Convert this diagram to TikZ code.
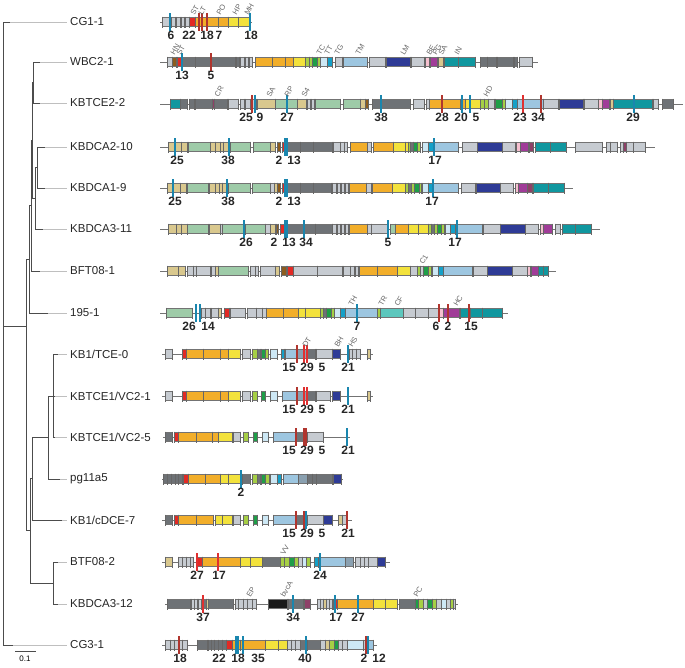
\documentclass[tikz,border=0pt]{standalone}
\usepackage{fontspec}
\setmainfont{Liberation Sans}

% gene colours
\definecolor{lgray}{HTML}{C6CBD1}
\definecolor{dgray}{HTML}{6E7276}
\definecolor{orange}{HTML}{F2AE2A}
\definecolor{yellow}{HTML}{F3E23C}
\definecolor{lgreen}{HTML}{A6CF45}
\definecolor{green}{HTML}{1E9E48}
\definecolor{lblue}{HTML}{9DC6E0}
\definecolor{pblue}{HTML}{CDE8F5}
\definecolor{cyan}{HTML}{14A0C8}
\definecolor{navy}{HTML}{2E3B96}
\definecolor{teal}{HTML}{10979F}
\definecolor{magenta}{HTML}{A03C98}
\definecolor{pink}{HTML}{F6C0CF}
\definecolor{tan}{HTML}{D9C88E}
\definecolor{sage}{HTML}{9ECBA8}
\definecolor{brown}{HTML}{8C5C1E}
\definecolor{red}{HTML}{E22A25}
\definecolor{blk}{HTML}{1A1A1A}
\definecolor{mauve}{HTML}{8E4068}
\definecolor{turq}{HTML}{5CC7BD}
\definecolor{slate}{HTML}{8AA0B0}
% marker colours
\definecolor{mkblue}{HTML}{1A86AE}
\definecolor{mkred}{HTML}{E03030}
\definecolor{dkred}{HTML}{B0352E}

% one row of genes: y, list of start/end/colour
\newcommand\genes[2]{%
  \foreach \a/\b/\c in {#2}{%
    \filldraw[gene,fill=\c] (\a,#1-4.5) rectangle (\b,#1+4.5);
    \draw[tk] (\a,#1-5.5) -- (\a,#1+5.5) (\b,#1-5.5) -- (\b,#1+5.5);
  }}
% markers: y, list of x/colour
\newcommand\mks[2]{%
  \foreach \a/\c in {#2}{\draw[mkline,\c] (\a,#1-9) -- (\a,#1+9);}}
% numbers under the row: y, list of x/text
\newcommand\nums[2]{%
  \foreach \a/\t in {#2}{\node[num] (n#1-\a) at (\a,#1+9) {\t};}}
% rotated gene names: y, list of x/text
\newcommand\tags[2]{%
  \foreach \a/\t in {#2}{\node[tag] (t#1-\a) at (\a,#1-7) {\t};}}

\begin{document}
\begin{tikzpicture}[x=1pt,y=-1pt,
    branch/.style={draw=black!70, line width=0.7pt},
    ext/.style={draw=black!25, line width=0.7pt},
    leaf/.style={anchor=west, inner xsep=3pt, inner ysep=0pt,
        font=\fontsize{11.5}{13}\selectfont, text=black!85},
    bline/.style={draw=black!55, line width=0.6pt},
    gene/.style={draw=black!55, line width=0.35pt},
    tk/.style={draw=black!60, line width=0.4pt},
    mkline/.style={line width=2.2pt},
    num/.style={anchor=north, inner sep=0pt,
        font=\fontsize{12}{14}\selectfont\bfseries, text=black!85},
    tag/.style={anchor=west, rotate=60, inner sep=0.5pt,
        font=\fontsize{7.5}{8}\selectfont, text=black!60}
]
\useasboundingbox (0,0) rectangle (685,667);

% --- Tree ---
\node[leaf] (cg11) at (67,22) {CG1-1};
\node[leaf] (wbc21) at (67,62) {WBC2-1};
\node[leaf] (kbtce22) at (67,103) {KBTCE2-2};
\node[leaf] (kbdca210) at (67,147) {KBDCA2-10};
\node[leaf] (kbdca19) at (67,188) {KBDCA1-9};
\node[leaf] (kbdca311) at (67,229) {KBDCA3-11};
\node[leaf] (bft081) at (67,271) {BFT08-1};
\node[leaf] (s1951) at (67,313) {195-1};
\node[leaf] (tce0) at (67,354) {KB1/TCE-0};
\node[leaf] (vc21) at (67,396) {KBTCE1/VC2-1};
\node[leaf] (vc25) at (67,437) {KBTCE1/VC2-5};
\node[leaf] (pg11a5) at (67,479) {pg11a5};
\node[leaf] (cdce7) at (67,520) {KB1/cDCE-7};
\node[leaf] (btf082) at (67,562) {BTF08-2};
\node[leaf] (kbdca312) at (67,604) {KBDCA3-12};
\node[leaf] (cg31) at (67,645) {CG3-1};

% internal nodes
\draw[branch] (3,22) -- (3,645);
\draw[branch] (3,326) -- (26,326);
\draw[branch] (26,259) -- (26,530);
% upper clade
\draw[branch] (26,259) -- (29,259) (29,205) -- (29,313);
\draw[branch] (29,205) -- (31,205) (31,140) -- (31,271);
\draw[branch] (31,140) -- (32,140) (32,82) -- (32,198);
\draw[branch] (32,82) -- (33,82) (33,62) -- (33,103);
\draw[branch] (32,198) -- (35,198) (35,167) -- (35,229);
\draw[branch] (35,167) -- (37,167) (37,147) -- (37,188);
% lower clade
\draw[branch] (26,530) -- (30,530) (30,478) -- (30,583);
\draw[branch] (30,478) -- (32,478) (32,437) -- (32,520);
\draw[branch] (32,437) -- (48,437) (48,396) -- (48,479);
\draw[branch] (48,396) -- (53,396) (53,354) -- (53,437);
\draw[branch] (30,583) -- (53,583) (53,562) -- (53,604);

% leaf branches
\foreach \n/\x/\d/\y in {cg11/3/10/22, wbc21/33/40/62, kbtce22/33/40/103,
    kbdca210/37/45/147, kbdca19/37/45/188, kbdca311/35/43/229,
    bft081/31/40/271, s1951/29/48/313, tce0/53/58/354, vc21/53/55/396,
    vc25/53/55/437, pg11a5/48/60/479, cdce7/32/62/520, btf082/53/58/562,
    kbdca312/53/58/604, cg31/3/13/645}{
  \draw[branch] (\x,\y) -- (\d,\y);
  \draw[ext] (\d,\y) -- (\n.west);
}

% scale bar
\draw[branch] (15,651) -- (36,651);
\node[inner sep=0pt, font=\fontsize{8}{9}\selectfont] (scale) at (25,659) {0.1};

% --- Gene clusters ---
% CG1-1
\draw[bline] (160,22) -- (252,22);
\genes{22}{162/170/lgray, 171/175/lgray, 176/180/lgray, 181/184/lgray,
  185/189/lgray, 189/195/red, 195/207/orange, 207/218/orange, 218/228/orange,
  228/238/yellow, 238/250/yellow}
\mks{22}{170/mkblue, 199/dkred, 202/dkred, 207/dkred, 250/mkblue}
\nums{22}{171/6, 189/22, 207/18, 219/7, 251/18}
\tags{22}{192/ST, 200/LT, 218/PO, 234/HP, 246/MH}

% WBC2-1
\draw[bline] (160,62) -- (538,62);
\genes{62}{167/172/lgray, 172/176/brown, 177/182/red, 182/195/dgray,
  195/211/dgray, 211/235/dgray, 236/239/dgray, 240/244/lgray, 245/248/lgray,
  249/252/lgray, 255/272/orange, 272/285/orange, 285/293/orange,
  293/305/yellow, 305/309/lgreen, 309/312/lgreen, 312/317/green,
  317/320/lgreen, 320/327/pblue, 327/332/cyan, 335/342/lgray, 343/367/lblue,
  369/385/lgray, 386/410/navy, 411/424/lgray, 425/429/pink, 430/437/magenta,
  438/443/tan, 444/458/teal, 458/475/teal, 480/487/dgray, 487/496/dgray,
  497/513/dgray, 514/517/dgray, 519/532/lgray}
\mks{62}{182/mkblue, 211/dkred}
\nums{62}{182/13, 211/5}
\tags{62}{172/HN, 178/ST, 318/TC, 326/TT, 336/TG, 357/TM, 402/LM, 428/BE,
  434/PG, 440/SA, 456/IN}

% KBTCE2-2
\draw[bline] (160,104) -- (683,104);
\genes{104}{170/180/teal, 180/187/dgray, 189/194/dgray, 195/212/dgray,
  212/214/mauve, 214/227/dgray, 228/238/lgray, 240/244/lgray, 245/250/lgray,
  251/256/lgray, 257/275/tan, 275/297/sage, 297/306/tan, 307/310/lgray,
  311/314/lgray, 315/340/sage, 343/360/sage, 360/365/tan, 365/368/brown,
  372/380/dgray, 380/410/dgray, 413/424/lgray, 426/429/lgray, 429/442/orange,
  442/460/orange, 460/465/orange, 465/480/yellow, 480/484/lgreen,
  484/488/lgreen, 488/494/lgray, 495/502/green, 502/505/lgreen,
  505/512/pblue, 512/517/cyan, 517/523/lblue, 523/543/lblue, 543/558/lgray,
  559/583/navy, 584/598/lgray, 598/602/pink, 602/609/magenta, 610/613/tan,
  613/633/teal, 633/652/teal, 653/658/lgray, 662/673/dgray}
\mks{104}{252/dkred, 255/mkblue, 287/mkblue, 381/mkblue, 442/dkred,
  462/mkblue, 470/mkblue, 523/mkred, 541/dkred, 634/mkblue}
\nums{104}{246/25, 260/9, 287/27, 381/38, 442/28, 461/20, 476/5, 520/23,
  538/34, 633/29}
\tags{104}{216/CR, 268/SA, 286/RP, 303/S4, 485/HD}

% KBDCA2-10
\draw[bline] (160,147) -- (655,147);
\genes{147}{168/175/tan, 175/181/tan, 181/187/tan, 188/210/sage,
  210/215/tan, 215/220/tan, 220/223/tan, 223/228/tan, 230/250/sage,
  253/270/sage, 270/275/tan, 277/280/brown, 282/285/red, 286/300/dgray,
  300/313/dgray, 313/332/dgray, 333/340/lgray, 340/344/lgray, 344/347/lgray,
  350/367/orange, 367/371/lgray, 373/393/orange, 393/405/yellow,
  405/408/yellow, 408/410/lgreen, 410/413/dgray, 413/417/green,
  417/420/lgreen, 422/428/pblue, 428/433/cyan, 434/458/lblue, 462/477/lgray,
  477/502/navy, 502/515/lgray, 516/520/pink, 520/528/magenta, 529/533/mauve,
  535/550/teal, 550/566/teal, 575/602/lgray, 606/610/lgray, 610/617/lgray,
  620/623/lgray, 623/626/mauve, 626/633/lgray, 633/645/lgray}
\mks{147}{175/mkblue, 229/mkblue, 285/mkblue, 287/mkblue, 434/mkblue}
\nums{147}{177/25, 228/38, 279/2, 294/13, 435/17}

% KBDCA1-9
\draw[bline] (160,188) -- (573,188);
\genes{188}{167/173/tan, 173/180/tan, 180/186/tan, 187/208/sage,
  209/215/tan, 215/219/tan, 219/222/tan, 222/226/tan, 228/250/sage,
  252/270/sage, 270/274/lgray, 274/277/tan, 277/280/brown, 282/285/red,
  286/300/dgray, 300/313/dgray, 313/331/dgray, 332/336/lgray, 337/340/lgray,
  341/344/lgray, 345/348/lgray, 349/366/orange, 366/371/lgray,
  372/392/orange, 392/405/yellow, 405/408/lgreen, 408/411/dgray,
  411/414/lgreen, 414/419/green, 419/421/lgreen, 422/428/pblue,
  428/432/cyan, 433/458/lblue, 461/475/lgray, 476/500/navy, 500/513/lgray,
  515/518/pink, 518/527/magenta, 527/532/mauve, 533/548/teal, 548/564/teal}
\mks{188}{173/mkblue, 227/mkblue, 285/mkblue, 287/mkblue, 433/mkblue}
\nums{188}{175/25, 228/38, 279/2, 294/13, 432/17}

% KBDCA3-11
\draw[bline] (160,229) -- (600,229);
\genes{229}{168/176/tan, 176/181/tan, 181/187/tan, 187/208/sage,
  209/220/tan, 220/222/lgray, 222/244/sage, 245/265/sage, 265/270/lgray,
  270/275/tan, 276/278/brown, 280/284/red, 285/304/dgray, 304/315/dgray,
  315/332/dgray, 332/336/lgray, 337/340/lgray, 341/344/lgray, 345/348/lgray,
  349/367/orange, 367/371/lgray, 371/388/lgray, 390/395/sage,
  395/408/orange, 408/418/yellow, 418/428/yellow, 428/431/lgreen,
  431/434/dgray, 434/437/lgreen, 437/441/green, 441/444/lgreen,
  445/450/pblue, 450/455/cyan, 457/482/lblue, 483/500/lgray, 500/525/navy,
  525/538/lgray, 540/543/pink, 543/552/magenta, 555/560/lgray,
  562/575/teal, 575/591/teal}
\mks{229}{244/mkblue, 285/mkblue, 287/mkblue, 304/mkblue, 388/mkblue,
  457/mkblue}
\nums{229}{246/26, 274/2, 289/13, 306/34, 388/5, 455/17}

% BFT08-1
\draw[bline] (160,271) -- (556,271);
\genes{271}{167/178/tan, 178/185/tan, 187/193/lgray, 193/196/lgray,
  196/210/lgray, 211/215/lgray, 215/218/tan, 218/248/sage, 250/255/lgray,
  255/258/lgray, 260/275/lgray, 275/279/tan, 281/286/brown, 287/293/red,
  293/317/lgray, 317/342/lgray, 343/350/lgray, 350/354/lgray,
  355/358/lgray, 359/377/orange, 377/397/orange, 397/410/yellow,
  410/417/lgray, 417/420/lgreen, 420/423/lgray, 423/428/green,
  428/431/lgreen, 432/438/pblue, 438/443/cyan, 443/472/lblue,
  473/487/lgray, 487/512/navy, 512/527/lgray, 527/530/pink,
  531/538/magenta, 538/543/teal, 543/548/teal}
\tags{271}{421/C1}

% 195-1
\draw[bline] (160,313) -- (508,313);
\genes{313}{166/192/sage, 201/205/lgray, 205/210/lgray, 211/218/lgray,
  218/221/tan, 224/229/red, 230/245/lgray, 247/256/lgray, 256/262/lgray,
  262/266/lgray, 266/283/orange, 283/298/orange, 298/305/yellow,
  305/320/yellow, 320/323/lgreen, 323/326/dgray, 326/331/green,
  331/334/lgreen, 334/340/pblue, 340/345/cyan, 345/377/lblue,
  377/380/lgreen, 380/403/turq, 403/415/lgray, 415/428/lgray,
  428/438/lgray, 438/443/pink, 443/459/magenta, 460/470/teal,
  470/482/teal, 482/502/teal}
\mks{313}{196/mkblue, 200/mkblue, 357/mkblue, 439/dkred, 448/dkred,
  469/dkred}
\nums{313}{189/26, 208/14, 357/7, 436/6, 448/2, 471/15}
\tags{313}{350/TH, 380/TR, 396/CF, 455/HC}

% KB1/TCE-0
\draw[bline] (162,354) -- (373,354);
\genes{354}{165/172/lgray, 182/186/red, 186/203/orange, 203/220/orange,
  220/228/orange, 228/240/yellow, 242/250/lgray, 252/257/lgreen,
  257/260/dgray, 261/265/green, 265/268/lgreen, 270/277/pblue,
  281/284/cyan, 285/297/lblue, 297/303/slate, 303/307/slate,
  307/315/dgray, 316/332/lgray, 332/340/navy, 349/352/lgray,
  352/356/lgray, 356/360/lgray, 367/370/tan}
\mks{354}{297/dkred, 304/mkred, 307/mkred, 348/mkblue}
\nums{354}{289/15, 307/29, 322/5, 348/21}
\tags{354}{304/DT, 336/BH, 350/HS}

% KBTCE1/VC2-1
\draw[bline] (162,396) -- (373,396);
\genes{396}{165/172/lgray, 182/186/red, 186/203/orange, 203/220/orange,
  220/228/orange, 228/240/yellow, 242/250/lgray, 252/257/lgreen,
  261/265/green, 270/277/pblue, 282/297/lblue, 297/303/slate,
  303/307/slate, 307/315/dgray, 316/330/lgray, 332/340/navy, 367/370/tan}
\mks{396}{297/dkred, 304/mkred, 307/mkred, 348/mkblue}
\nums{396}{289/15, 307/29, 322/5, 348/21}

% KBTCE1/VC2-5
\draw[bline] (163,437) -- (350,437);
\genes{437}{165/172/dgray, 174/178/red, 178/196/orange, 196/212/orange,
  212/218/orange, 218/232/yellow, 233/240/lgray, 243/248/lgreen,
  253/257/green, 262/268/pblue, 273/295/lblue, 296/303/dgray,
  303/307/dkred, 307/323/lgray}
\mks{437}{296/dkred, 304/dkred, 306/dkred, 347/mkblue}
\nums{437}{289/15, 307/29, 322/5, 348/21}

% pg11a5
\draw[bline] (162,479) -- (343,479);
\genes{479}{163/167/dgray, 167/171/dgray, 171/175/dgray, 175/178/dgray,
  178/182/dgray, 183/188/red, 188/205/orange, 205/220/orange,
  220/228/yellow, 228/240/yellow, 242/250/dgray, 252/257/lgreen,
  257/260/dgray, 261/265/green, 265/269/lgreen, 270/277/pblue,
  277/281/cyan, 283/298/lblue, 298/307/slate, 307/312/dgray,
  312/316/dgray, 316/332/dgray, 333/341/navy}
\mks{479}{241/mkblue}
\nums{479}{241/2}

% KB1/cDCE-7
\draw[bline] (162,520) -- (352,520);
\genes{520}{165/172/dgray, 174/178/red, 178/196/orange, 196/213/orange,
  215/222/yellow, 222/232/yellow, 233/240/lgray, 243/248/lgreen,
  253/257/green, 262/268/pblue, 273/295/lblue, 296/303/dgray,
  303/307/dgray, 307/323/lgray, 323/332/navy, 338/342/tan, 342/346/lgray}
\mks{520}{296/dkred, 304/dkred, 306/mkblue, 347/dkred}
\nums{520}{289/15, 307/29, 322/5, 348/21}

% BTF08-2
\draw[bline] (162,562) -- (390,562);
\genes{562}{165/172/tan, 178/182/lgray, 182/186/lgray, 186/190/lgray,
  190/193/lgray, 197/202/red, 202/218/orange, 218/240/orange,
  240/250/yellow, 250/262/yellow, 262/280/dgray, 280/284/lgreen,
  284/289/lgreen, 289/294/green, 294/298/lgreen, 298/302/lgray,
  302/306/pblue, 306/310/lgreen, 314/318/cyan, 320/345/lblue,
  345/353/slate, 355/360/lgray, 360/364/lgray, 364/368/lgray,
  368/377/lgray, 377/385/navy}
\mks{562}{197/mkred, 218/mkred, 320/mkblue}
\nums{562}{197/27, 219/17, 320/24}
\tags{562}{282/VV}

% KBDCA3-12
\draw[bline] (165,604) -- (458,604);
\genes{604}{167/190/dgray, 191/194/lgray, 194/197/lgray, 198/201/lgray,
  201/206/dgray, 206/208/tan, 208/233/dgray, 235/238/lgray,
  238/243/lgray, 243/247/lgray, 247/252/lgray, 252/256/lgray,
  268/287/blk, 288/303/dgray, 304/310/mauve, 317/320/lgray,
  320/323/lgray, 323/326/tan, 326/329/lgray, 329/332/lgray,
  333/337/red, 337/358/orange, 358/373/orange, 373/385/yellow,
  385/397/yellow, 399/415/dgray, 415/418/green, 418/423/lgreen,
  423/427/lgray, 427/432/green, 432/436/lgreen, 436/441/lgray,
  441/446/pblue, 446/450/lgray, 450/453/lgreen, 453/455/lgray}
\mks{604}{203/mkred, 293/mkblue, 335/mkblue, 358/mkblue}
\nums{604}{203/37, 293/34, 336/17, 358/27}
\tags{604}{248/EP, 282/bvcA, 415/PC}

% CG3-1
\draw[bline] (162,645) -- (377,645);
\genes{645}{165/170/lgray, 170/174/lgray, 174/178/lgray, 178/182/lgray,
  182/187/lgray, 197/207/dgray, 208/211/dgray, 211/214/dgray,
  214/218/dgray, 218/222/dgray, 222/226/dgray, 226/232/red,
  232/240/orange, 240/265/orange, 265/278/yellow, 278/287/yellow,
  287/291/lgray, 291/295/lgray, 295/300/lgray, 300/307/dgray,
  307/320/dgray, 320/325/lgray, 325/329/tan, 329/334/lgreen,
  334/338/green, 338/342/lgray, 342/347/lgray, 347/363/pblue,
  363/367/lgray, 367/373/lblue}
\mks{645}{179/dkred, 236/mkblue, 238/mkblue, 243/mkblue, 306/mkblue,
  366/dkred, 368/mkblue}
\nums{645}{180/18, 219/22, 238/18, 258/35, 305/40, 364/2, 379/12}

\end{tikzpicture}
\end{document}
